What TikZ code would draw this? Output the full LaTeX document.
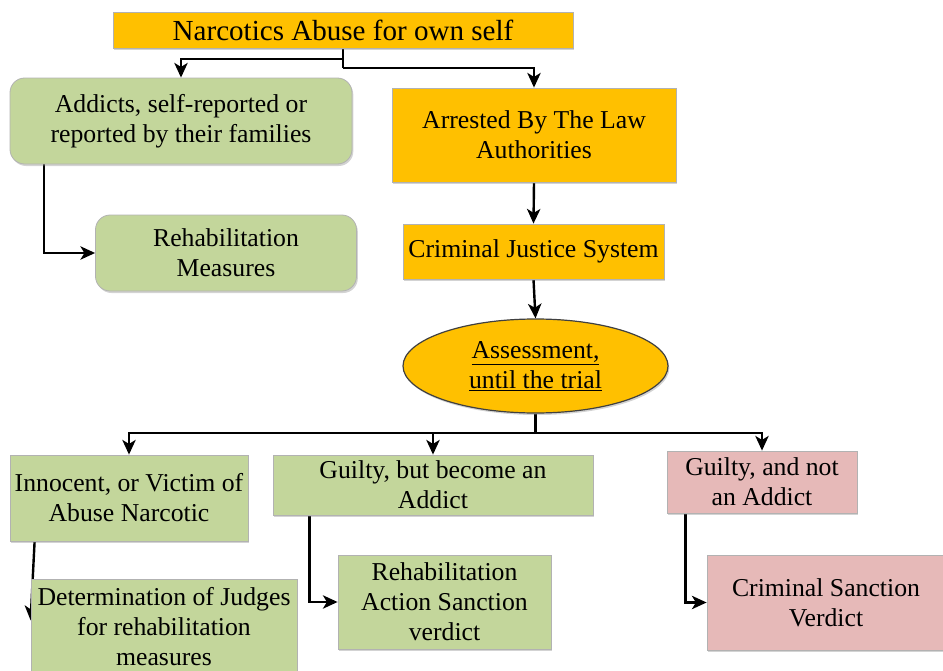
\documentclass[tikz,border=0pt]{standalone}
\usepackage{fontspec}
\setmainfont{Liberation Serif}
\usetikzlibrary{shapes.geometric,arrows.meta,shadows,backgrounds}
\definecolor{boxorange}{RGB}{255,192,0}
\definecolor{boxgreen}{RGB}{195,214,155}
\definecolor{boxpink}{RGB}{230,185,184}
\begin{document}
\begin{tikzpicture}[x=0.75pt,y=-0.75pt,
    box/.style={draw=black!30,line width=0.6pt,align=center,inner sep=0pt,
      font=\fontsize{19.3}{22.5}\selectfont,
      drop shadow={opacity=0.35,shadow xshift=1pt,shadow yshift=-1.5pt}},
    orangebox/.style={box,fill=boxorange},
    greenbox/.style={box,fill=boxgreen},
    pinkbox/.style={box,fill=boxpink},
    arr/.style={-{Stealth[length=11pt,width=10pt,inset=3pt]},line width=1.8pt}]
  \useasboundingbox (0,0) rectangle (943,671);
  \node[orangebox,minimum width=345pt,minimum height=27pt,
    font=\fontsize{21.8}{24}\selectfont] (top) at (343,30) {Narcotics Abuse for own self};
  \node[greenbox,rounded corners=11pt,minimum width=256.5pt,minimum height=64.5pt] (addicts) at (181,121)
    {Addicts, self-reported or\\reported by their families};
  \node[orangebox,minimum width=213pt,minimum height=70.5pt] (arrest) at (534,135)
    {Arrested By The Law\\Authorities};
  \node[greenbox,rounded corners=11pt,minimum width=195.75pt,minimum height=57pt] (rehabm) at (226,253)
    {Rehabilitation\\Measures};
  \node[orangebox,minimum width=195.75pt,minimum height=41.25pt] (cjs) at (533.5,251.5)
    {Criminal Justice System};
  \node[orangebox,ellipse,draw=black!75,line width=0.9pt,minimum width=198.75pt,minimum height=70.5pt] (assess) at (535.5,366)
    {\underline{Assessment,}\\\underline{until the trial}};
  \node[greenbox,minimum width=178.5pt,minimum height=64.5pt] (innocent) at (129,498)
    {Innocent, or Victim of\\Abuse Narcotic};
  \node[greenbox,minimum width=240pt,minimum height=45pt] (guiltyb) at (433,485)
    {Guilty, but become an\\Addict};
  \node[pinkbox,minimum width=142.5pt,minimum height=46.5pt] (guiltyn) at (762,482)
    {Guilty, and not\\an Addict};
  \node[greenbox,minimum width=199.5pt,minimum height=72pt] (determ) at (164,627)
    {Determination of Judges\\for rehabilitation\\measures};
  \node[greenbox,minimum width=159.75pt,minimum height=70.5pt] (rehaba) at (444.5,602)
    {Rehabilitation\\Action Sanction\\verdict};
  \node[pinkbox,minimum width=178.5pt,minimum height=71.25pt] (crims) at (826,602.5)
    {Criminal Sanction\\Verdict};
  \begin{scope}[on background layer]
    \coordinate (split1) at (343,59);
    \coordinate (split2) at (343,68);
    \coordinate (hub) at (535.5,433);
    \draw[line width=1.8pt] (top.south) -- (split2);
    \draw[arr] (split1) -| (addicts.north);
    \draw[arr] (split2) -| (arrest.north);
    \draw[arr] ([xshift=26pt]addicts.south west) |- (rehabm.west);
    \draw[arr] (arrest.south) -- (cjs.north);
    \draw[arr] (cjs.south) -- (assess.north);
    \draw[line width=1.8pt] (assess.south) -- (hub);
    \draw[arr] (hub) -| (innocent.north);
    \draw[arr] (hub) -| (guiltyn.north);
    \draw[arr] (hub -| guiltyb.north) -- (guiltyb.north);
    \draw[arr] ([xshift=18.75pt]innocent.south west) -- ([yshift=5pt]determ.west);
    \draw[arr] ([xshift=27.75pt]guiltyb.south west) |- (rehaba.west);
    \draw[arr] ([xshift=14.25pt]guiltyn.south west) |- (crims.west);
  \end{scope}
\end{tikzpicture}
\end{document}
